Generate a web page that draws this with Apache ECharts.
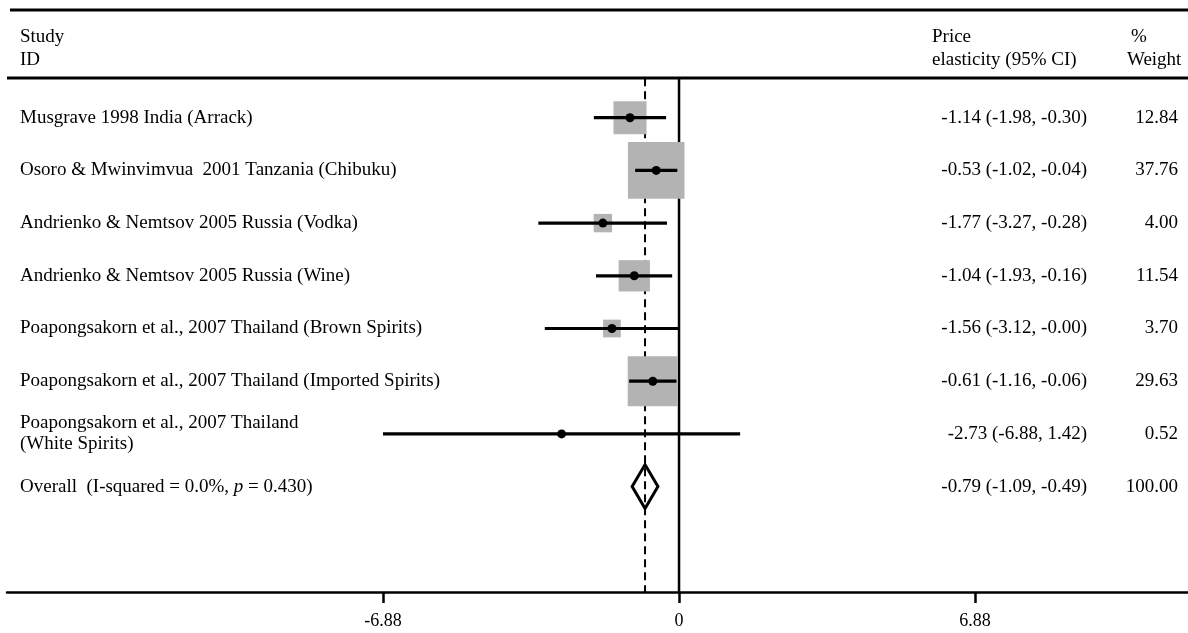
<!DOCTYPE html>
<html>
<head>
<meta charset="utf-8">
<script src="https://cdn.jsdelivr.net/npm/echarts@6/dist/echarts.min.js"></script>
<style>
  html, body { margin: 0; padding: 0; background: #fff; }
  #chart { width: 1188px; height: 633px; }
</style>
</head>
<body>
<div id="chart"></div>
<script>
// ---- Data ----
const studies = [
  'Musgrave 1998 India (Arrack)',
  'Osoro & Mwinvimvua  2001 Tanzania (Chibuku)',
  'Andrienko & Nemtsov 2005 Russia (Vodka)',
  'Andrienko & Nemtsov 2005 Russia (Wine)',
  'Poapongsakorn et al., 2007 Thailand (Brown Spirits)',
  'Poapongsakorn et al., 2007 Thailand (Imported Spirits)',
  'Poapongsakorn et al., 2007 Thailand\n(White Spirits)'
];
const estimates = [-1.14, -0.53, -1.77, -1.04, -1.56, -0.61, -2.73];
const lowerCI   = [-1.98, -1.02, -3.27, -1.93, -3.12, -1.16, -6.88];
const upperCI   = [-0.30, -0.04, -0.28, -0.16, -0.00, -0.06, 1.42];
const weights   = [12.84, 37.76, 4.00, 11.54, 3.70, 29.63, 0.52];
const overallEst = -0.79, overallLo = -1.09, overallHi = -0.49, overallWeight = 100.00;
const iSquared = '0.0%', pValue = '0.430';
const xTicks = [-6.88, 0, 6.88];
const headers = { study: ['Study', 'ID'], ci: ['Price', 'elasticity (95% CI)'], weight: ['%', 'Weight'] };

// ---- Helpers ----
const FONT = "'Liberation Serif', 'Times New Roman', serif";
const FS = 19;
const fmt = v => ((v < 0 || Object.is(v, -0)) ? '-' : '') + Math.abs(v).toFixed(2);
const ciText = (e, l, h) => fmt(e) + ' (' + fmt(l) + ', ' + fmt(h) + ')';
const nRows = studies.length;          // rows 1..7, overall at row 8
const overallRow = nRows + 1;

const rowOf = i => i + 1;
const boxData = estimates.map((e, i) => [e, rowOf(i), weights[i]]);
const ciData = estimates.map((e, i) => [lowerCI[i], upperCI[i], rowOf(i)]);
const dotData = estimates.map((e, i) => [e, rowOf(i)]);

const leftLabel = v => {
  if (v >= 1 && v <= nRows) return '{n|' + studies[v - 1].replace('\n', '}\n{n|') + '}';
  if (v === overallRow) return '{n|Overall  (I-squared = ' + iSquared + ', }{i|p}{n| = ' + pValue + ')}';
  return '';
};
const ciLabel = v => {
  if (v >= 1 && v <= nRows) return ciText(estimates[v - 1], lowerCI[v - 1], upperCI[v - 1]);
  if (v === overallRow) return ciText(overallEst, overallLo, overallHi);
  return '';
};
const wLabel = v => {
  if (v >= 1 && v <= nRows) return weights[v - 1].toFixed(2);
  if (v === overallRow) return overallWeight.toFixed(2);
  return '';
};

const baseY = {
  type: 'value', min: 0, max: 10, interval: 1, inverse: true,
  axisLine: { show: false }, axisTick: { show: false }, splitLine: { show: false }
};
const textStyle = { fontFamily: FONT, fontSize: FS, color: '#000' };
const hdrFont = FS + 'px ' + FONT;

const chart = echarts.init(document.getElementById('chart'), null, { renderer: 'canvas' });
chart.setOption({
  backgroundColor: '#fff',
  animation: false,
  grid: { left: 7, right: 0, top: 65, bottom: 41, containLabel: false, outerBoundsMode: 'none' },
  xAxis: {
    type: 'value', min: -15.62, max: 11.83,
    axisLine: { onZero: false, lineStyle: { color: '#000', width: 2.5 } },
    axisTick: { show: true, length: 11, lineStyle: { color: '#000', width: 2.5 }, customValues: xTicks },
    axisLabel: { customValues: xTicks, formatter: v => String(v), margin: 20, fontFamily: FONT, fontSize: 18, color: '#000' },
    splitLine: { show: false }
  },
  yAxis: [
    Object.assign({}, baseY, {
      position: 'left',
      axisLabel: { formatter: leftLabel, align: 'left', margin: -13, lineHeight: 21,
        rich: { n: Object.assign({}, textStyle, { lineHeight: 21 }), i: Object.assign({}, textStyle, { fontStyle: 'italic', lineHeight: 21 }) } }
    }),
    Object.assign({}, baseY, {
      position: 'right',
      axisLabel: Object.assign({ formatter: ciLabel, align: 'right', margin: -101 }, textStyle)
    }),
    Object.assign({}, baseY, {
      position: 'right',
      axisLabel: Object.assign({ formatter: wLabel, align: 'right', margin: -10 }, textStyle)
    })
  ],
  graphic: [
    { type: 'line', shape: { x1: 10, y1: 10, x2: 1188, y2: 10 }, style: { stroke: '#000', lineWidth: 3 } },
    { type: 'line', shape: { x1: 7, y1: 78, x2: 1188, y2: 78 }, style: { stroke: '#000', lineWidth: 3 } },
    { type: 'text', left: 20, top: 26, style: { text: headers.study.join('\n'), font: hdrFont, lineHeight: 23, fill: '#000' } },
    { type: 'text', left: 932, top: 26, style: { text: headers.ci.join('\n'), font: hdrFont, lineHeight: 23, fill: '#000' } },
    { type: 'text', left: 1131, top: 26, style: { text: headers.weight[0], font: hdrFont, lineHeight: 23, fill: '#000' } },
    { type: 'text', left: 1127, top: 49, style: { text: headers.weight[1], font: hdrFont, lineHeight: 23, fill: '#000' } }
  ],
  series: [
    { // null line at 0
      type: 'line', data: [[0, 0.25], [0, 10]], symbol: 'none', z: 1,
      lineStyle: { color: '#000', width: 2.5 }
    },
    { // overall estimate dashed line
      type: 'line', data: [[overallEst, 0.25], [overallEst, 10]], symbol: 'none', z: 1,
      lineStyle: { color: '#000', width: 2, type: [8, 5] }
    },
    { // weight boxes
      type: 'scatter', data: boxData, symbol: 'rect', z: 2,
      symbolSize: v => 9.21 * Math.sqrt(v[2]),
      itemStyle: { color: '#b3b3b3', opacity: 1 }
    },
    { // confidence intervals
      type: 'custom', z: 3, data: ciData,
      renderItem: (params, api) => {
        const p1 = api.coord([api.value(0), api.value(2)]);
        const p2 = api.coord([api.value(1), api.value(2)]);
        return { type: 'line', shape: { x1: p1[0], y1: p1[1], x2: p2[0], y2: p2[1] }, style: { stroke: '#000', lineWidth: 3.2 } };
      }
    },
    { // point estimates
      type: 'scatter', data: dotData, symbol: 'circle', symbolSize: 9, z: 4,
      itemStyle: { color: '#000', opacity: 1 }
    },
    { // overall diamond
      type: 'custom', z: 3, data: [[overallEst, overallLo, overallHi, overallRow]],
      renderItem: (params, api) => {
        const r = api.value(3);
        const c = api.coord([api.value(0), r]);
        const l = api.coord([api.value(1), r]);
        const h = api.coord([api.value(2), r]);
        const hh = 22;
        return { type: 'polygon', shape: { points: [[l[0], c[1]], [c[0], c[1] - hh], [h[0], c[1]], [c[0], c[1] + hh]] },
          style: { fill: 'rgba(255,255,255,0)', stroke: '#000', lineWidth: 3 } };
      }
    }
  ]
});
</script>
</body>
</html>
